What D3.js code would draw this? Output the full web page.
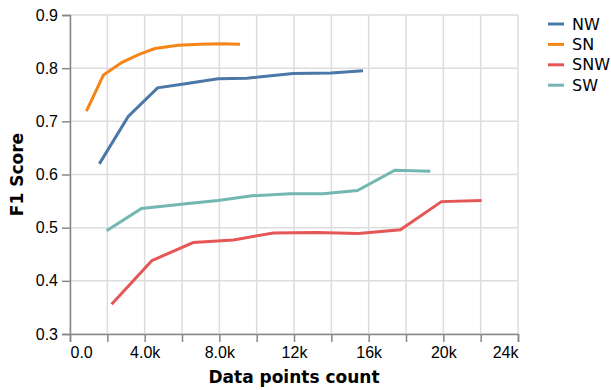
<!DOCTYPE html>
<html>
<head>
<meta charset="utf-8">
<script src="https://cdn.jsdelivr.net/npm/d3@7"></script>
<style>
  html, body { margin: 0; padding: 0; background: #fff; }
  svg { display: block; font-family: "DejaVu Sans", Verdana, sans-serif; }
</style>
</head>
<body>
<svg id="chart" width="611" height="390"></svg>
<script>
// Series: data points count vs. F1 score
const seriesNames = ["NW", "SN", "SNW", "SW"];
const seriesColors = ["#4c78a8", "#f58518", "#e45756", "#72b7b2"];

const nwCounts = [1570, 3120, 4690, 6270, 7930, 9480, 11950, 13980, 15700];
const nwScores = [0.620, 0.709, 0.763, 0.771, 0.780, 0.781, 0.790, 0.791, 0.795];

const snCounts = [880, 1790, 2790, 3700, 4550, 5790, 6960, 8090, 9110];
const snScores = [0.719, 0.787, 0.811, 0.826, 0.837, 0.843, 0.845, 0.846, 0.845];

const snwCounts = [2230, 4380, 6600, 8750, 10900, 13200, 15450, 17700, 19900, 22050];
const snwScores = [0.356, 0.438, 0.472, 0.477, 0.490, 0.491, 0.489, 0.496, 0.549, 0.551];

const swCounts = [1960, 3830, 5950, 7930, 9750, 11800, 13550, 15400, 17400, 19300];
const swScores = [0.494, 0.536, 0.544, 0.551, 0.560, 0.564, 0.564, 0.570, 0.608, 0.606];

const xTickValues = [0, 2000, 4000, 6000, 8000, 10000, 12000, 14000, 16000, 18000, 20000, 22000, 24000];
const xTickLabels = ["0.0", "", "4.0k", "", "8.0k", "", "12k", "", "16k", "", "20k", "", "24k"];
const yTickValues = [0.3, 0.4, 0.5, 0.6, 0.7, 0.8, 0.9];
const yTickLabels = ["0.3", "0.4", "0.5", "0.6", "0.7", "0.8", "0.9"];

const xTitle = "Data points count";
const yTitle = "F1 Score";

const series = [
  { name: seriesNames[0], color: seriesColors[0], xs: nwCounts, ys: nwScores },
  { name: seriesNames[1], color: seriesColors[1], xs: snCounts, ys: snScores },
  { name: seriesNames[2], color: seriesColors[2], xs: snwCounts, ys: snwScores },
  { name: seriesNames[3], color: seriesColors[3], xs: swCounts, ys: swScores }
];

const plot = { left: 70, right: 518, top: 15, bottom: 334 };

const svg = d3.select("#chart");

const x = d3.scaleLinear().domain([0, 24000]).range([plot.left, plot.right]);
const y = d3.scaleLinear().domain([0.3, 0.9]).range([plot.bottom, plot.top]);

// grid
const grid = svg.append("g").attr("class", "grid");
grid.selectAll("line.gx").data(xTickValues).join("line")
  .attr("x1", d => x(d)).attr("x2", d => x(d))
  .attr("y1", plot.top).attr("y2", plot.bottom)
  .attr("stroke", "#ddd").attr("stroke-width", 1.5);
grid.selectAll("line.gy").data(yTickValues).join("line")
  .attr("x1", plot.left).attr("x2", plot.right)
  .attr("y1", d => y(d)).attr("y2", d => y(d))
  .attr("stroke", "#ddd").attr("stroke-width", 1.5);

// x axis
const xAxis = svg.append("g")
  .attr("transform", `translate(0,${plot.bottom})`)
  .call(d3.axisBottom(x)
    .tickValues(xTickValues)
    .tickFormat((d, i) => xTickLabels[i])
    .tickSize(8)
    .tickPadding(5));
xAxis.select(".domain").attr("stroke", "#888").attr("stroke-width", 1.5);
xAxis.selectAll(".tick line").attr("stroke", "#888").attr("stroke-width", 1.5);
xAxis.selectAll(".tick text")
  .attr("fill", "#000")
  .style("font-size", "16px")
  .attr("text-anchor", (d, i) => i === 0 ? "start" : (i === xTickValues.length - 1 ? "end" : "middle"));

// y axis
const yAxis = svg.append("g")
  .attr("transform", `translate(${plot.left},0)`)
  .call(d3.axisLeft(y)
    .tickValues(yTickValues)
    .tickFormat((d, i) => yTickLabels[i])
    .tickSize(8)
    .tickPadding(4));
yAxis.select(".domain").attr("stroke", "#888").attr("stroke-width", 1.5);
yAxis.selectAll(".tick line").attr("stroke", "#888").attr("stroke-width", 1.5);
yAxis.selectAll(".tick text").attr("fill", "#000").style("font-size", "16px");

// axis titles
svg.append("text")
  .attr("x", (plot.left + plot.right) / 2)
  .attr("y", 382.5)
  .attr("text-anchor", "middle")
  .style("font-size", "17px").style("font-weight", "bold")
  .text(xTitle);
svg.append("text")
  .attr("transform", `translate(23,${(plot.top + plot.bottom) / 2}) rotate(-90)`)
  .attr("text-anchor", "middle")
  .style("font-size", "17px").style("font-weight", "bold")
  .text(yTitle);

// lines
const line = d3.line().x(d => x(d[0])).y(d => y(d[1]));
svg.append("g").selectAll("path").data(series).join("path")
  .attr("d", s => line(s.xs.map((v, i) => [v, s.ys[i]])))
  .attr("fill", "none")
  .attr("stroke", s => s.color)
  .attr("stroke-width", 3);

// legend
const legend = svg.append("g").attr("transform", "translate(548,24)");
const items = legend.selectAll("g").data(series).join("g")
  .attr("transform", (d, i) => `translate(0,${i * 20.4})`);
items.append("line")
  .attr("x1", 0).attr("x2", 16).attr("y1", 0).attr("y2", 0)
  .attr("stroke", d => d.color).attr("stroke-width", 3);
items.append("text")
  .attr("x", 24).attr("y", 0).attr("dy", "0.35em")
  .style("font-size", "16px")
  .text(d => d.name);
</script>
</body>
</html>
